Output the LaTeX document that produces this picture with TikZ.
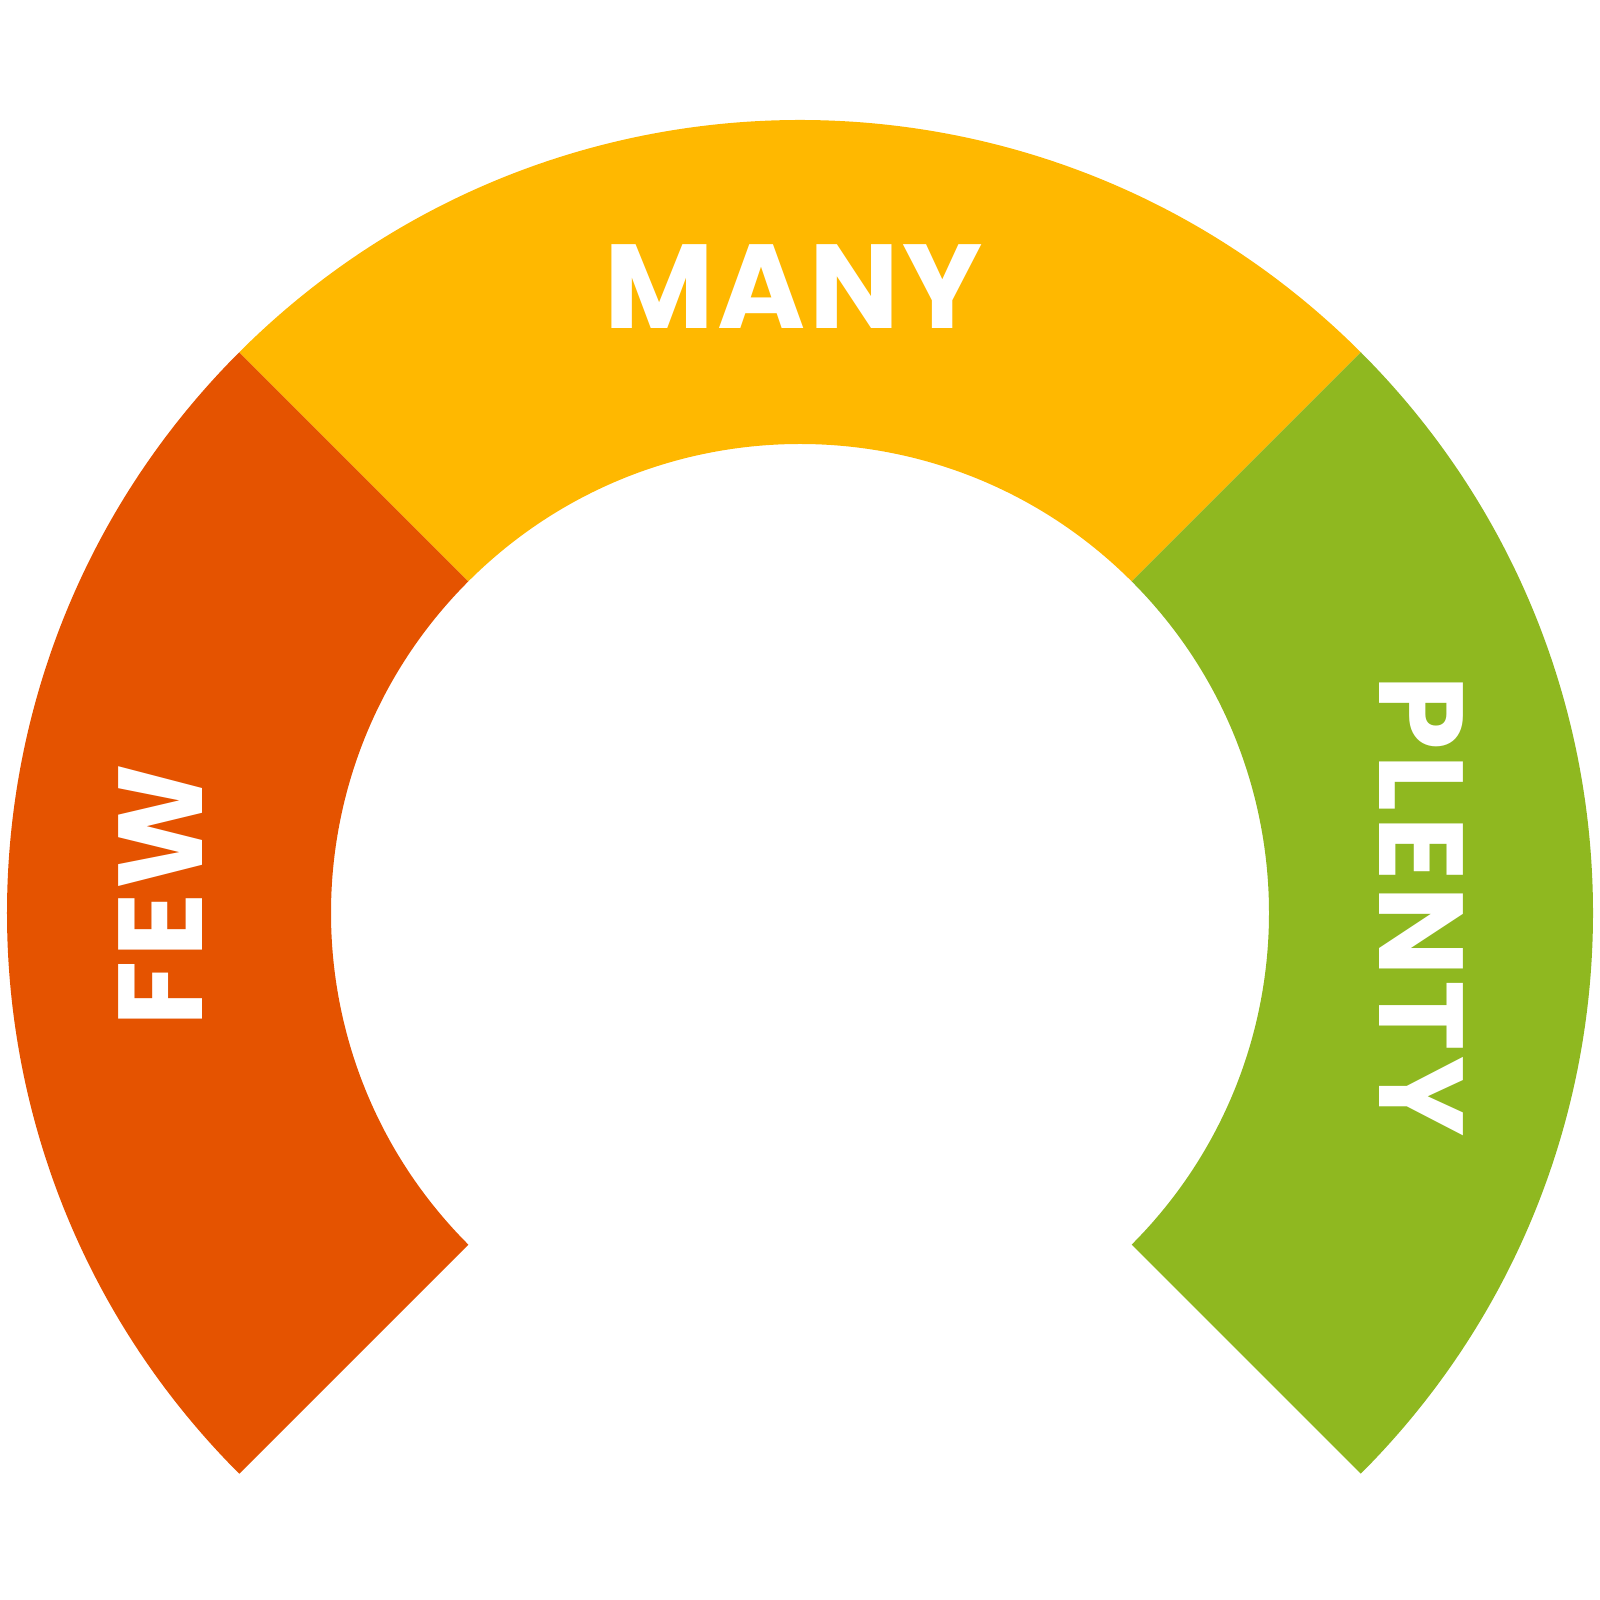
\documentclass[tikz,border=0pt]{standalone}
\usepackage{fontspec}
\setmainfont{Poppins}[BoldFont={* Bold}]
\definecolor{fewred}{HTML}{E55300}
\definecolor{manyyellow}{HTML}{FFB800}
\definecolor{plentygreen}{HTML}{8FB820}
\tikzset{
  band/.style={draw=none},
  gaugelabel/.style={text=white,font=\fontsize{34}{34}\selectfont\bfseries,inner sep=0pt}
}
\begin{document}
\begin{tikzpicture}
  \useasboundingbox (-8,-6.87) rectangle (8,9.13);
  % Bands
  \fill[band,fewred] (135:7.93) arc (135:225:7.93) -- (225:4.69) arc (225:135:4.69) -- cycle;
  \fill[band,manyyellow] (45:7.93) arc (45:135:7.93) -- (135:4.69) arc (135:45:4.69) -- cycle;
  \fill[band,plentygreen] (-45:7.93) arc (-45:45:7.93) -- (45:4.69) arc (45:-45:4.69) -- cycle;
  % Labels
  \node[gaugelabel] (few) at (-6.39,0.18) [rotate=90] {\addfontfeature{LetterSpace=3}FEW};
  \node[gaugelabel] (many) at (-0.06,6.26) {\addfontfeature{LetterSpace=3}MANY};
  \node[gaugelabel] (plenty) at (6.21,0.07) [rotate=-90] {\addfontfeature{LetterSpace=4}PLENTY};
\end{tikzpicture}
\end{document}
